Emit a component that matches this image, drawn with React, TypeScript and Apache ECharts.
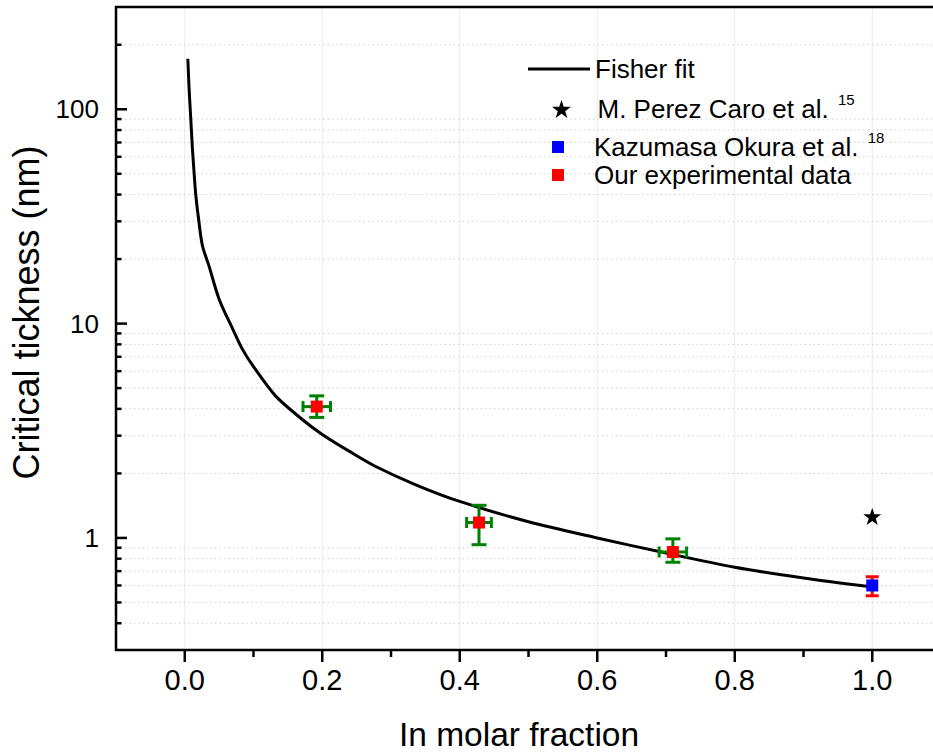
import React, { useEffect, useRef } from 'react';
import * as echarts from 'echarts';

const FONT = '"Liberation Sans", Arial, Helvetica, sans-serif';

// Fisher fit curve
const fitX = [0.0045, 0.0063, 0.0087, 0.0111, 0.0135, 0.016, 0.02, 0.0257, 0.035, 0.05, 0.07, 0.0838, 0.1, 0.132, 0.171, 0.2, 0.239, 0.277, 0.336, 0.4, 0.5, 0.6, 0.7, 0.8, 0.9, 1.0];
const fitY = [172, 125, 91, 66, 51, 40, 31, 23.1, 18.7, 13, 9.4, 7.6, 6.3, 4.6, 3.57, 3.04, 2.54, 2.16, 1.77, 1.48, 1.19, 1.0, 0.85, 0.73, 0.65, 0.59];

// Our experimental data
const oursX = [0.192, 0.428, 0.71];
const oursY = [4.1, 1.18, 0.86];
const oursXErr = [0.02, 0.018, 0.02];
const oursYLow = [3.65, 0.93, 0.77];
const oursYHigh = [4.6, 1.42, 0.99];

// Kazumasa Okura et al.
const okuraX = [1.0];
const okuraY = [0.6];
const okuraYLow = [0.537];
const okuraYHigh = [0.659];

// M. Perez Caro et al.
const perezX = [1.0];
const perezY = [1.26];

// Ticks
const xMajorTicks = [0, 0.2, 0.4, 0.6, 0.8, 1.0];
const xMinorTicks = [0.1, 0.3, 0.5, 0.7, 0.9];
const yMajorTicks = [1, 10, 100];
const yMinorTicks = [0.4, 0.5, 0.6, 0.7, 0.8, 0.9, 2, 3, 4, 5, 6, 7, 8, 9, 20, 30, 40, 50, 60, 70, 80, 90, 200];

const X_MIN = -0.1;
const X_MAX = 1.1;
const Y_MIN = 0.3;
const Y_MAX = 300;

const seriesNames = ['Fisher fit', 'M. Perez Caro et al.', 'Kazumasa Okura et al.', 'Our experimental data'];
const legendSup: Record<string, string> = {
  'M. Perez Caro et al.': '15',
  'Kazumasa Okura et al.': '18',
};

const STAR = 'path://M50,0L61.8,35.1L98.9,35.1L69,57.3L80.3,92.7L50,71L19.7,92.7L31,57.3L1.1,35.1L38.2,35.1Z';
const SQUARE = 'path://M0,0L10,0L10,10L0,10Z';

function errorBarRender(color: string, capW: number) {
  return (params: any, api: any) => {
    const x = api.value(0);
    const y = api.value(1);
    const xl = api.value(2);
    const xh = api.value(3);
    const yl = api.value(4);
    const yh = api.value(5);
    const pLow = api.coord([x, yl]);
    const pHigh = api.coord([x, yh]);
    const style = { stroke: color, lineWidth: 3, fill: 'none' };
    const children: any[] = [
      { type: 'line', shape: { x1: pLow[0], y1: pLow[1], x2: pHigh[0], y2: pHigh[1] }, style },
      { type: 'line', shape: { x1: pLow[0] - capW / 2, y1: pLow[1], x2: pLow[0] + capW / 2, y2: pLow[1] }, style },
      { type: 'line', shape: { x1: pHigh[0] - capW / 2, y1: pHigh[1], x2: pHigh[0] + capW / 2, y2: pHigh[1] }, style },
    ];
    if (xh > xl) {
      const pl = api.coord([xl, y]);
      const ph = api.coord([xh, y]);
      children.push(
        { type: 'line', shape: { x1: pl[0], y1: pl[1], x2: ph[0], y2: ph[1] }, style },
        { type: 'line', shape: { x1: pl[0], y1: pl[1] - 5.5, x2: pl[0], y2: pl[1] + 5.5 }, style },
        { type: 'line', shape: { x1: ph[0], y1: ph[1] - 5.5, x2: ph[0], y2: ph[1] + 5.5 }, style },
      );
    }
    return { type: 'group', children };
  };
}

export default function App() {
  const ref = useRef<HTMLDivElement>(null);

  useEffect(() => {
    if (!ref.current) return;
    const chart = echarts.init(ref.current, null, { renderer: 'svg' });

    const legendCommon = {
      orient: 'vertical',
      left: 528,
      padding: 0,
      itemWidth: 62,
      selectedMode: false,
      symbolKeepAspect: true,
      formatter: (name: string) => {
        const sup = legendSup[name];
        return sup ? `{n|${name} }{s|${sup}}` : `{n|${name}}`;
      },
      textStyle: {
        fontFamily: FONT,
        fontSize: 26,
        color: '#000',
        rich: {
          n: { fontFamily: FONT, fontSize: 26, color: '#000', lineHeight: 34 },
          s: { fontFamily: FONT, fontSize: 15, color: '#000', lineHeight: 15, verticalAlign: 'top', padding: [0, 0, 0, 2] },
        },
      },
    };

    const option: any = {
      animation: false,
      backgroundColor: '#fff',
      grid: {
        left: 116,
        top: 7,
        width: 825,
        bottom: 103,
        containLabel: false,
        outerBoundsMode: 'none',
        show: true,
        borderColor: '#000',
        borderWidth: 2.5,
        backgroundColor: 'transparent',
        z: 10,
      },
      legend: [
        { ...legendCommon, data: [{ name: seriesNames[0], icon: 'rect' }], top: 56, itemHeight: 3 },
        { ...legendCommon, data: [{ name: seriesNames[1], icon: STAR }], top: 92, itemHeight: 18, left: 552 },
        { ...legendCommon, data: [{ name: seriesNames[2], icon: SQUARE }], top: 130, itemHeight: 12, left: 552 },
        { ...legendCommon, data: [{ name: seriesNames[3], icon: SQUARE }], top: 162, itemHeight: 12, left: 552 },
      ],
      xAxis: {
        type: 'value',
        min: X_MIN,
        max: X_MAX,
        interval: 0.1,
        name: 'In molar fraction',
        nameLocation: 'middle',
        nameGap: 67,
        nameTextStyle: { fontFamily: FONT, fontSize: 33.5, color: '#000', padding: [0, 19, 0, 0] },
        axisLine: { show: false },
        axisTick: { show: false },
        splitLine: { show: false },
        axisLabel: {
          margin: 15,
          fontFamily: FONT,
          fontSize: 29,
          color: '#000',
          hideOverlap: false,
          formatter: (v: number) => {
            const k = Math.round(v * 10);
            return k >= 0 && k <= 10 && k % 2 === 0 ? v.toFixed(1) : '';
          },
        },
      },
      yAxis: {
        type: 'log',
        logBase: 10,
        min: Y_MIN,
        max: Y_MAX,
        name: 'Critical tickness (nm)',
        nameLocation: 'middle',
        nameGap: 70,
        nameTextStyle: { fontFamily: FONT, fontSize: 36, color: '#000', padding: [0, 0, 0, 32] },
        axisLine: { show: false },
        axisTick: { show: false },
        splitLine: { show: false },
        axisLabel: {
          margin: 17,
          fontFamily: FONT,
          fontSize: 26,
          color: '#000',
          hideOverlap: false,
          showMinLabel: false,
          showMaxLabel: false,
          formatter: (v: number) => {
            const l = Math.log10(v);
            return Math.abs(l - Math.round(l)) < 1e-6 ? String(Math.round(v)) : '';
          },
        },
      },
      series: [
        // vertical grid lines at major x
        {
          type: 'custom',
          name: 'xgrid',
          silent: true,
          clip: false,
          z: 1,
          data: xMajorTicks.map((v) => [v, Y_MIN]),
          renderItem: (params: any, api: any) => {
            const a = api.coord([api.value(0), Y_MIN]);
            const b = api.coord([api.value(0), Y_MAX]);
            return { type: 'line', shape: { x1: a[0], y1: a[1], x2: b[0], y2: b[1] }, style: { stroke: '#ebebeb', lineWidth: 1 } };
          },
        },
        // horizontal dotted grid lines at minor y
        {
          type: 'custom',
          name: 'ygrid',
          silent: true,
          clip: false,
          z: 1,
          data: yMinorTicks.map((v) => [X_MIN, v]),
          renderItem: (params: any, api: any) => {
            const a = api.coord([X_MIN, api.value(1)]);
            const b = api.coord([X_MAX, api.value(1)]);
            return { type: 'line', shape: { x1: a[0], y1: a[1], x2: b[0], y2: b[1] }, style: { stroke: '#cfcfcf', lineWidth: 1, lineDash: [1.5, 3] } };
          },
        },
        {
          type: 'line',
          name: seriesNames[0],
          data: fitX.map((x, i) => [x, fitY[i]]),
          symbol: 'none',
          showSymbol: false,
          smooth: 0.3,
          z: 3,
          lineStyle: { color: '#000', width: 3 },
          itemStyle: { color: '#000' },
        },
        {
          type: 'custom',
          name: 'ours-err',
          silent: true,
          clip: false,
          z: 4,
          data: oursX.map((x, i) => [x, oursY[i], x - oursXErr[i], x + oursXErr[i], oursYLow[i], oursYHigh[i]]),
          renderItem: errorBarRender('#008000', 15),
        },
        {
          type: 'custom',
          name: 'okura-err',
          silent: true,
          clip: false,
          z: 4,
          data: okuraX.map((x, i) => [x, okuraY[i], x, x, okuraYLow[i], okuraYHigh[i]]),
          renderItem: errorBarRender('#ff0000', 13),
        },
        {
          type: 'scatter',
          name: seriesNames[1],
          data: perezX.map((x, i) => [x, perezY[i]]),
          symbol: STAR,
          symbolSize: 18,
          symbolKeepAspect: true,
          z: 5,
          itemStyle: { color: '#000', opacity: 1 },
        },
        {
          type: 'scatter',
          name: seriesNames[2],
          data: okuraX.map((x, i) => [x, okuraY[i]]),
          symbol: SQUARE,
          symbolSize: 12,
          symbolKeepAspect: true,
          z: 5,
          itemStyle: { color: '#0000ff', opacity: 1 },
        },
        {
          type: 'scatter',
          name: seriesNames[3],
          data: oursX.map((x, i) => [x, oursY[i]]),
          symbol: SQUARE,
          symbolSize: 12,
          symbolKeepAspect: true,
          z: 5,
          itemStyle: { color: '#ff0000', opacity: 1 },
        },
        // y ticks (inward)
        {
          type: 'custom',
          name: 'yticks',
          silent: true,
          clip: false,
          z: 11,
          data: [...yMajorTicks.map((v) => [X_MIN, v, 1]), ...yMinorTicks.map((v) => [X_MIN, v, 0])],
          renderItem: (params: any, api: any) => {
            const p = api.coord([X_MIN, api.value(1)]);
            const len = api.value(2) ? 11 : 5.5;
            return { type: 'line', shape: { x1: p[0], y1: p[1], x2: p[0] + len, y2: p[1] }, style: { stroke: '#000', lineWidth: 2.5 } };
          },
        },
        // x ticks (outward)
        {
          type: 'custom',
          name: 'xticks',
          silent: true,
          clip: false,
          z: 11,
          data: [...xMajorTicks.map((v) => [v, Y_MIN, 1]), ...xMinorTicks.map((v) => [v, Y_MIN, 0])],
          renderItem: (params: any, api: any) => {
            const p = api.coord([api.value(0), Y_MIN]);
            const len = api.value(2) ? 12 : 7;
            return { type: 'line', shape: { x1: p[0], y1: p[1], x2: p[0], y2: p[1] + len }, style: { stroke: '#000', lineWidth: 2.5 } };
          },
        },
      ],
    };

    chart.setOption(option);
    return () => chart.dispose();
  }, []);

  return <div ref={ref} style={{ width: 933, height: 753, position: 'absolute', left: 0, top: 0 }} />;
}
